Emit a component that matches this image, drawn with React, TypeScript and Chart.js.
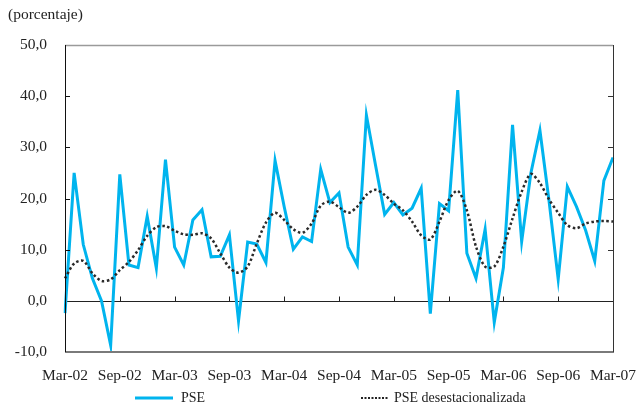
import React, { useEffect, useRef } from "react";
import { Chart, registerables } from "chart.js";

Chart.register(...registerables);

const tickLabels = ["Mar-02", "Sep-02", "Mar-03", "Sep-03", "Mar-04", "Sep-04", "Mar-05", "Sep-05", "Mar-06", "Sep-06", "Mar-07"];
const monthNames = ["Mar", "Abr", "May", "Jun", "Jul", "Ago", "Sep", "Oct", "Nov", "Dic", "Ene", "Feb"];
const categories: string[] = [];
for (let i = 0; i < 61; i++) {
  const yr = 2 + Math.floor((i + 2) / 12);
  categories.push(monthNames[i % 12] + "-" + String(yr).padStart(2, "0"));
}

const pse = [
  -2.4, 25.0, 11.0, 4.4, 0.0, -8.7, 24.7, 7.0, 6.5, 16.5, 6.4, 27.6,
  10.5, 7.0, 15.8, 17.8, 8.6, 8.7, 12.9, -3.9, 11.5, 11.1, 7.5, 27.4,
  18.4, 10.1, 12.5, 11.6, 25.7, 19.2, 21.1, 10.5, 7.0, 36.3, 26.5, 16.9,
  19.2, 16.8, 18.1, 22.0, -2.5, 19.0, 17.6, 41.2, 9.3, 4.4, 14.0, -4.2,
  6.5, 34.4, 11.6, 24.9, 33.3, 19.5, 4.2, 22.3, 18.4, 13.8, 7.8, 23.5,
  28.0,
];

const pseDesest = [
  4.4, 7.3, 7.8, 5.4, 3.9, 4.2, 6.0, 7.6, 9.9, 12.7, 14.4, 14.6,
  13.7, 13.0, 12.9, 13.2, 12.2, 9.3, 6.5, 5.5, 6.7, 11.2, 15.3, 17.2,
  15.8, 14.0, 13.3, 15.1, 18.6, 19.4, 18.3, 17.2, 18.4, 20.7, 21.7, 20.7,
  19.0, 17.7, 15.5, 12.8, 12.0, 15.5, 19.7, 21.5, 17.7, 10.6, 6.7, 6.7,
  10.6, 16.1, 21.3, 24.8, 23.0, 19.8, 17.2, 14.8, 14.2, 15.1, 15.5, 15.6,
  15.5,
];

const yTicks = [-10, 0, 10, 20, 30, 40, 50];

const FONT = "'Liberation Serif', 'Times New Roman', serif";
const CYAN = "#00B4EE";

const framePlugin = {
  id: "frame",
  beforeDatasetsDraw(chart: any) {
    const { ctx, chartArea, scales } = chart;
    const { left, right } = chartArea;
    const y = scales.y;
    const x = scales.x;
    ctx.save();
    const y0 = Math.round(y.getPixelForValue(0)) + 0.5;
    ctx.strokeStyle = "#222";
    ctx.lineWidth = 1;
    ctx.beginPath();
    ctx.moveTo(left, y0);
    ctx.lineTo(right, y0);
    ctx.stroke();
    for (let i = 6; i < categories.length - 1; i += 6) {
      const px = Math.round(x.getPixelForValue(i)) + 0.5;
      ctx.beginPath();
      ctx.moveTo(px, y0);
      ctx.lineTo(px, y0 - 5);
      ctx.stroke();
    }
    ctx.restore();
  },
  afterDatasetsDraw(chart: any) {
    const { ctx, chartArea, scales } = chart;
    const { left, right, top, bottom } = chartArea;
    const y = scales.y;
    ctx.save();
    ctx.strokeStyle = "#9a9a9a";
    ctx.lineWidth = 1.5;
    ctx.beginPath();
    ctx.moveTo(left, top + 0.5);
    ctx.lineTo(right, top + 0.5);
    ctx.stroke();
    ctx.strokeStyle = "#7a7a7a";
    ctx.lineWidth = 2;
    ctx.beginPath();
    ctx.moveTo(left, bottom);
    ctx.lineTo(right + 1, bottom);
    ctx.stroke();
    ctx.strokeStyle = "#111";
    ctx.lineWidth = 1;
    ctx.beginPath();
    ctx.moveTo(left + 0.5, top);
    ctx.lineTo(left + 0.5, bottom);
    ctx.stroke();
    ctx.strokeStyle = "#333";
    ctx.beginPath();
    ctx.moveTo(right + 0.5, top);
    ctx.lineTo(right + 0.5, bottom);
    ctx.stroke();
    for (const v of [10, 20, 30, 40]) {
      const py = Math.round(y.getPixelForValue(v)) + 0.5;
      ctx.strokeStyle = "#111";
      ctx.beginPath();
      ctx.moveTo(left, py);
      ctx.lineTo(left + 5, py);
      ctx.stroke();
      ctx.strokeStyle = "#333";
      ctx.beginPath();
      ctx.moveTo(right, py);
      ctx.lineTo(right - 5, py);
      ctx.stroke();
    }
    ctx.restore();
  },
  afterDraw(chart: any) {
    const { ctx } = chart;
    ctx.save();
    ctx.fillStyle = "#222";
    ctx.textBaseline = "middle";
    ctx.textAlign = "left";
    ctx.font = "15.5px " + FONT;
    ctx.fillText("(porcentaje)", 8, 15);
    ctx.font = "14px " + FONT;
    const ly = 398;
    ctx.strokeStyle = CYAN;
    ctx.lineWidth = 3;
    ctx.beginPath();
    ctx.moveTo(135, ly);
    ctx.lineTo(173, ly);
    ctx.stroke();
    ctx.fillText("PSE", 181, ly);
    ctx.strokeStyle = "#222";
    ctx.lineWidth = 2;
    ctx.setLineDash([2, 1.5]);
    ctx.beginPath();
    ctx.moveTo(361, ly);
    ctx.lineTo(389, ly);
    ctx.stroke();
    ctx.setLineDash([]);
    ctx.fillText("PSE desestacionalizada", 394, ly);
    ctx.restore();
  },
};

export default function App() {
  const ref = useRef<HTMLCanvasElement>(null);
  useEffect(() => {
    document.body.style.margin = "0";
    const chart = new Chart(ref.current as HTMLCanvasElement, {
      type: "line",
      data: {
        labels: categories,
        datasets: [
          {
            label: "PSE",
            data: pse,
            borderColor: CYAN,
            backgroundColor: CYAN,
            borderWidth: 3,
            pointRadius: 0,
            tension: 0,
            order: 2,
          },
          {
            label: "PSE desestacionalizada",
            data: pseDesest,
            borderColor: "#2a2a2a",
            backgroundColor: "#2a2a2a",
            borderWidth: 2.5,
            borderDash: [2.5, 2.5],
            pointRadius: 0,
            tension: 0.3,
            order: 1,
          },
        ],
      },
      options: {
        responsive: false,
        animation: false,
        layout: { padding: { top: 45, right: 24, left: 0, bottom: 0 } },
        plugins: {
          legend: { display: false },
          title: { display: false },
          tooltip: { enabled: false },
        },
        scales: {
          x: {
            type: "category",
            offset: false,
            grid: { display: false, drawTicks: false },
            border: { display: false },
            ticks: {
              autoSkip: false,
              maxRotation: 0,
              minRotation: 0,
              padding: 15,
              color: "#222",
              font: { family: FONT, size: 15.5 },
              callback: (_v: any, i: number) => (i % 6 === 0 ? tickLabels[i / 6] : ""),
            },
            afterFit: (s: any) => {
              s.height = 52;
              s.paddingLeft = 0;
              s.paddingRight = 0;
            },
          },
          y: {
            min: -10,
            max: 50,
            grid: { display: false, drawTicks: false },
            border: { display: false },
            ticks: {
              stepSize: 10,
              padding: 18,
              color: "#222",
              font: { family: FONT, size: 15.5 },
              callback: (v: any) => (yTicks.includes(Number(v)) ? Number(v).toFixed(1).replace(".", ",") : ""),
            },
            afterFit: (s: any) => {
              s.width = 65;
              s.paddingTop = 0;
              s.paddingBottom = 0;
            },
          },
        },
      },
      plugins: [framePlugin],
    } as any);
    return () => chart.destroy();
  }, []);
  return <canvas ref={ref} width={637} height={404} style={{ display: "block" }} />;
}
